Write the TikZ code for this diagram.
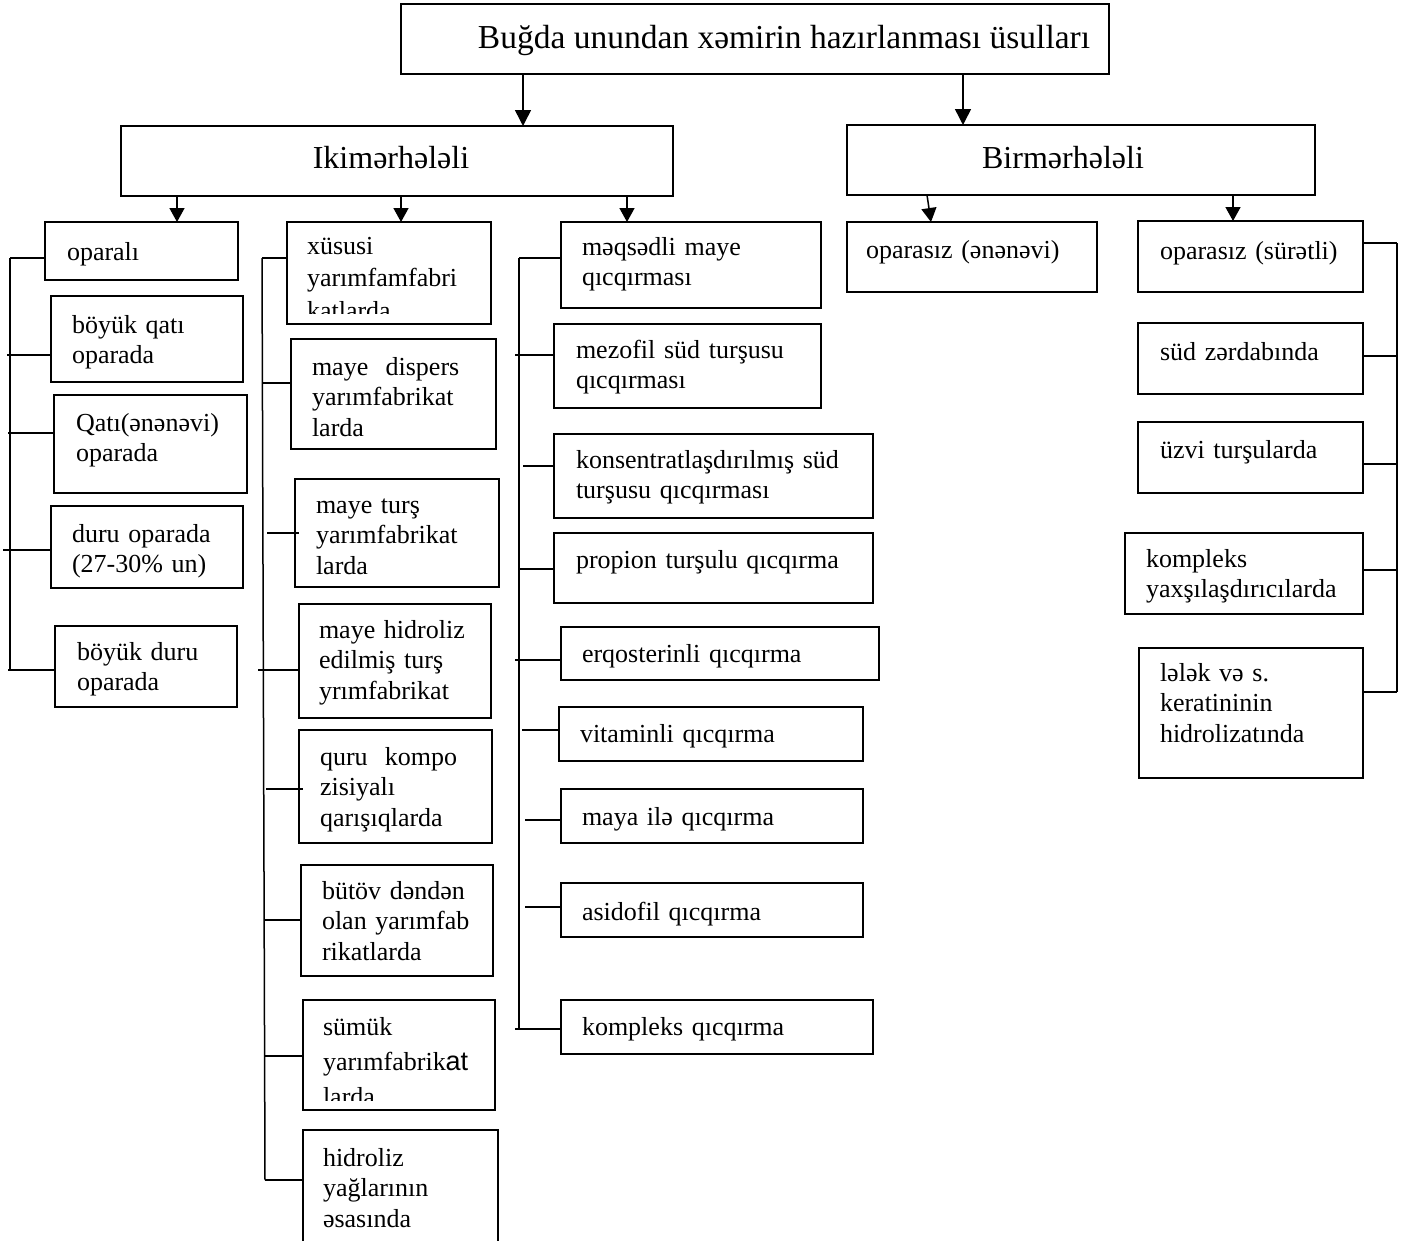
\documentclass[tikz,border=0pt]{standalone}
\usepackage{fontspec}
\setmainfont{Liberation Serif}
\newfontfamily\arialfnt{Liberation Sans}
\usetikzlibrary{arrows.meta}

% box given by its corners (x1,y1) and (x2,y2), y counted downwards
\newcommand\bxat[5]{\node[bx, minimum width={(#4-#2)*1pt}, minimum height={(#5-#3)*1pt}] (#1) at (#2,#3) {};}
% text block, placed at the baseline of its first line
\newcommand\txat[4]{\node[tx] (#1) at (#2,#3) {#4};}

\begin{document}
\begin{tikzpicture}[x=1pt, y=-1pt, line width=1.5pt,
  bx/.style={draw, rectangle, inner sep=0pt, outer sep=0pt, anchor=north west},
  tx/.style={anchor=base west, inner sep=0pt, outer sep=0pt, text width=330pt, align=left,
             font=\fontsize{26}{30.5}\selectfont},
  hd/.style={anchor=base, inner sep=0pt, font=\fontsize{32}{38}\selectfont},
  arr/.style={-{Triangle[width=16pt,length=16pt]}},
  sarr/.style={-{Triangle[width=15pt,length=14pt]}}]
\useasboundingbox[fill=white] (0,0) rectangle (1410,1240);

% ---------- top levels ----------
\bxat{title}{401}{4}{1109}{74}
\node[hd, font=\fontsize{33.5}{40}\selectfont] (titlet) at (784,48) {Buğda unundan xəmirin hazırlanması üsulları};
\bxat{iki}{121}{126}{673}{196}
\node[hd] (ikit) at (391,168) {Ikimərhələli};
\bxat{bir}{847}{125}{1315}{195}
\node[hd] (birt) at (1063,168) {Birmərhələli};

% ---------- column 1: oparalı ----------
\bxat{opa}{45}{222}{238}{280}   \txat{opat}{67}{260}{oparalı}
\bxat{bqa}{51}{296}{243}{382}   \txat{bqat}{72}{333}{böyük qatı\\oparada}
\bxat{qat}{54}{395}{247}{493}   \txat{qatt}{76}{431}{Qatı(ənənəvi)\\oparada}
\bxat{dur}{51}{506}{243}{588}   \txat{durt}{72}{542}{duru oparada\\(27-30\% un)}
\bxat{bdu}{55}{626}{237}{707}   \txat{bdut}{77}{660}{böyük duru\\oparada}

% ---------- column 2: semi-products ----------
\bxat{xus}{287}{222}{491}{324}
\begin{scope}
  \clip (xus.north west) rectangle ([yshift=11pt]xus.south east);
  \txat{xust}{307}{254}{xüsusi\\[2pt]yarımfamfabri\\[2pt]katlarda}
\end{scope}
\bxat{dis}{291}{339}{496}{449}  \txat{dist}{312}{375}{maye~~dispers\\yarımfabrikat\\larda}
\bxat{tur}{295}{479}{499}{587}  \txat{turt}{316}{513}{maye turş\\yarımfabrikat\\larda}
\bxat{hid}{299}{604}{491}{718}  \txat{hidt}{319}{638}{maye hidroliz\\edilmiş turş\\yrımfabrikat}
\bxat{qur}{299}{730}{492}{843}  \txat{qurt}{320}{765}{quru~~kompo\\zisiyalı\\qarışıqlarda}
\bxat{but}{301}{865}{493}{976}  \txat{butt}{322}{899}{bütöv dəndən\\olan yarımfab\\rikatlarda}
\bxat{sum}{303}{1000}{495}{1110}
\begin{scope}
  \clip (sum.north west) rectangle ([yshift=10pt]sum.south east);
  \txat{sumt}{323}{1035}{sümük\\[4.5pt]yarımfabrik{\arialfnt\fontsize{27}{30.5}\selectfont at}\\[5pt]larda}
\end{scope}
\bxat{hyg}{303}{1130}{498}{1243} \txat{hygt}{323}{1166}{hidroliz\\yağlarının\\əsasında}

% ---------- column 3: fermentation ----------
\bxat{meq}{561}{222}{821}{308}  \txat{meqt}{582}{255}{məqsədli maye\\qıcqırması}
\bxat{mez}{554}{324}{821}{408}  \txat{mezt}{576}{358}{mezofil süd turşusu\\qıcqırması}
\bxat{kon}{554}{434}{873}{518}  \txat{kont}{576}{468}{konsentratlaşdırılmış süd\\turşusu qıcqırması}
\bxat{pro}{554}{533}{873}{603}  \txat{prot}{576}{568}{propion turşulu qıcqırma}
\bxat{erq}{561}{627}{879}{680}  \txat{erqt}{582}{662}{erqosterinli qıcqırma}
\bxat{vit}{559}{707}{863}{761}  \txat{vitt}{580}{742}{vitaminli qıcqırma}
\bxat{may}{561}{789}{863}{843}  \txat{mayt}{582}{825}{maya ilə qıcqırma}
\bxat{asi}{561}{883}{863}{937}  \txat{asit}{582}{920}{asidofil qıcqırma}
\bxat{kom}{561}{1000}{873}{1054} \txat{komt}{582}{1035}{kompleks qıcqırma}

% ---------- one-stage methods ----------
\bxat{ene}{847}{222}{1097}{292}  \txat{enet}{866}{258}{oparasız (ənənəvi)}
\bxat{sur}{1138}{221}{1363}{292} \txat{surt}{1160}{259}{oparasız (sürətli)}
\bxat{sud}{1138}{323}{1363}{394} \txat{sudt}{1160}{360}{süd zərdabında}
\bxat{uzv}{1138}{422}{1363}{493} \txat{uzvt}{1160}{458}{üzvi turşularda}
\bxat{kmp}{1125}{533}{1363}{614} \txat{kmpt}{1146}{567}{kompleks\\yaxşılaşdırıcılarda}
\bxat{lel}{1139}{648}{1363}{778} \txat{lelt}{1160}{681}{lələk və s.\\keratininin\\hidrolizatında}

% ---------- arrows ----------
\draw[arr]  (title.south -| 523,0) -- (iki.north -| 523,0);
\draw[arr]  (title.south -| 963,0) -- (bir.north -| 963,0);
\draw[sarr] (iki.south -| 177,0)  -- (opa.north -| 177,0);
\draw[sarr] (iki.south -| 401,0)  -- (xus.north -| 401,0);
\draw[sarr] (iki.south -| 627,0)  -- (meq.north -| 627,0);
\draw[sarr] (bir.south -| 927,0)  -- (ene.north -| 931,0);
\draw[sarr] (bir.south -| 1233,0) -- (sur.north -| 1233,0);

% ---------- bus lines ----------
\coordinate (busAtop) at (10,258);   \coordinate (busAbot) at (10,670);
\coordinate (busBtop) at (262,258);  \coordinate (busBbot) at (265,1180);
\coordinate (busCtop) at (519,258);  \coordinate (busCbot) at (519,1029);
\coordinate (busDtop) at (1397,243); \coordinate (busDbot) at (1397,692);
\draw (busAtop) -- (busAbot);
\draw (busBtop) -- (busBbot);
\draw (busCtop) -- (busCbot);
\draw (busDtop) -- (busDbot);

% column 1 branches
\draw (busAtop) -- (opa.west |- busAtop);
\draw (7,355) -- (bqa.west |- 0,355);
\draw (8,433) -- (qat.west |- 0,433);
\draw (3,550) -- (dur.west |- 0,550);
\draw (8,670) -- (bdu.west |- 0,670);

% column 2 branches
\draw (busBtop) -- (xus.west |- busBtop);
\draw (262,383) -- (dis.west |- 0,383);
\draw (267,533) -- ([xshift=4pt]tur.west |- 0,533);
\draw (258,670) -- (hid.west |- 0,670);
\draw (266,789) -- ([xshift=4pt]qur.west |- 0,789);
\draw (265,920) -- (but.west |- 0,920);
\draw (265,1056) -- (sum.west |- 0,1056);
\draw (busBbot) -- (hyg.west |- busBbot);

% column 3 branches
\draw (busCtop) -- (meq.west |- busCtop);
\draw (515,355) -- (mez.west |- 0,355);
\draw (523,466) -- (kon.west |- 0,466);
\draw (519,569) -- (pro.west |- 0,569);
\draw (515,660) -- (erq.west |- 0,660);
\draw (522,730) -- (vit.west |- 0,730);
\draw (525,820) -- (may.west |- 0,820);
\draw (525,907) -- (asi.west |- 0,907);
\draw (515,1029) -- (kom.west |- 0,1029);

% right-hand branches
\draw (sur.east |- busDtop) -- (busDtop);
\draw (sud.east |- 0,356) -- (1397,356);
\draw (uzv.east |- 0,464) -- (1397,464);
\draw (kmp.east |- 0,570) -- (1397,570);
\draw (lel.east |- busDbot) -- (busDbot);
\end{tikzpicture}
\end{document}
